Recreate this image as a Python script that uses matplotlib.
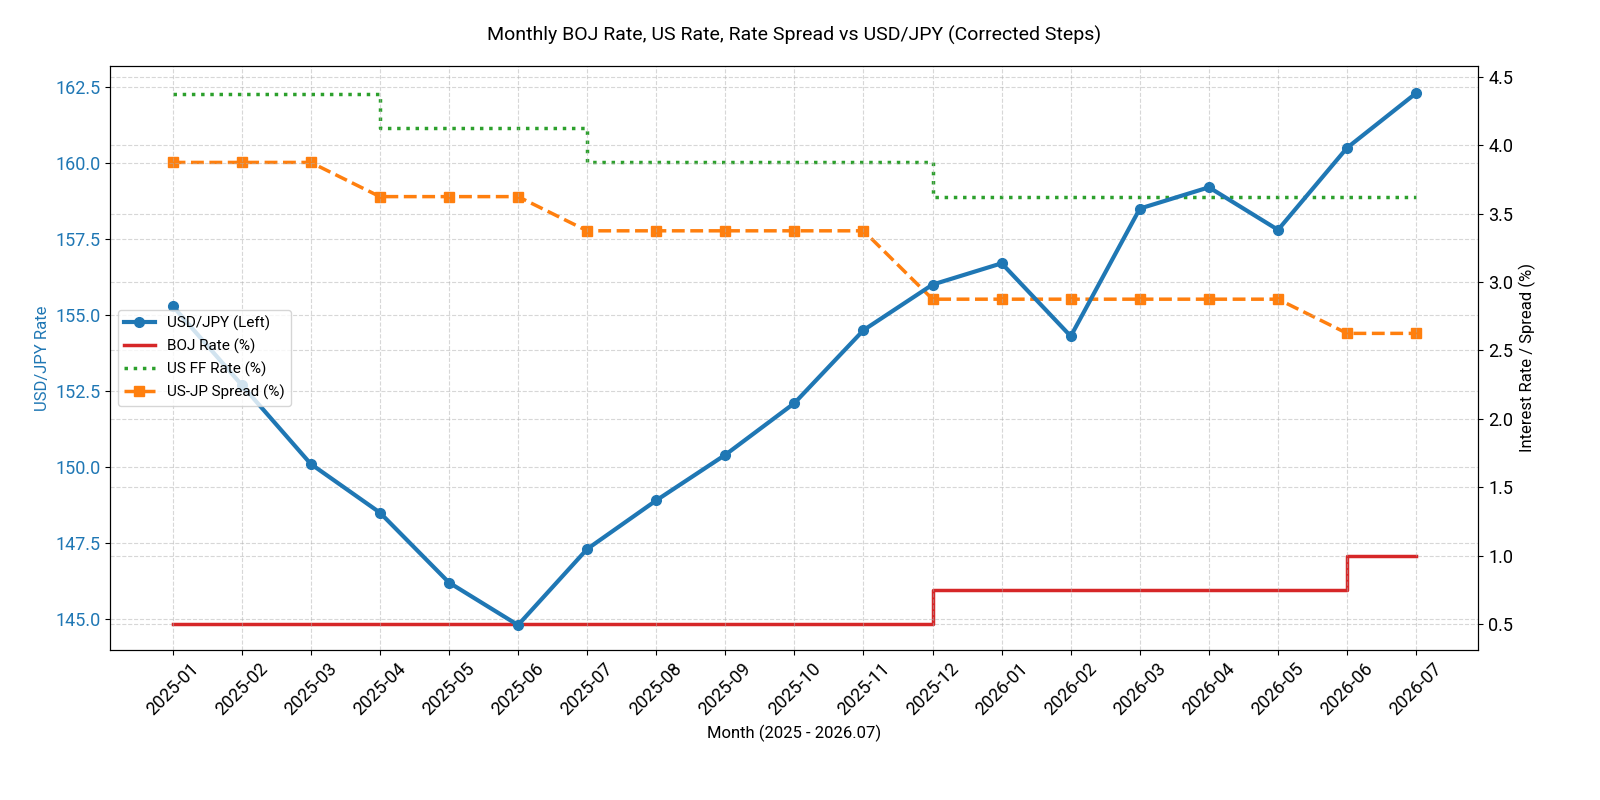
import matplotlib
matplotlib.use("Agg")
import matplotlib.pyplot as plt

plt.rcParams['font.family'] = ['Roboto', 'DejaVu Sans']

months = ["2025-01", "2025-02", "2025-03", "2025-04", "2025-05", "2025-06", "2025-07",
          "2025-08", "2025-09", "2025-10", "2025-11", "2025-12", "2026-01", "2026-02",
          "2026-03", "2026-04", "2026-05", "2026-06", "2026-07"]
usdjpy = [155.3, 152.7, 150.1, 148.5, 146.2, 144.8, 147.3, 148.9, 150.4, 152.1,
          154.5, 156.0, 156.7, 154.3, 158.5, 159.2, 157.8, 160.5, 162.3]
boj = [0.5] * 11 + [0.75] * 6 + [1.0] * 2
us_ff = [4.375] * 3 + [4.125] * 3 + [3.875] * 5 + [3.625] * 8
spread = [u - b for u, b in zip(us_ff, boj)]

x = list(range(len(months)))

fig, ax = plt.subplots(figsize=(16, 8), dpi=100)
ax2 = ax.twinx()

l1, = ax.plot(x, usdjpy, color='#1f77b4', lw=3, marker='o', ms=7, label='USD/JPY (Left)', zorder=5)
l2, = ax2.plot(x, boj, color='#d62728', lw=2.5, drawstyle='steps-post', label='BOJ Rate (%)')
l3, = ax2.plot(x, us_ff, color='#2ca02c', lw=2.5, ls=':', drawstyle='steps-post', label='US FF Rate (%)')
l4, = ax2.plot(x, spread, color='#ff7f0e', lw=2.5, ls='--', marker='s', ms=7, label='US-JP Spread (%)')

ax.set_ylim(143.98, 163.19)
ax2.set_ylim(0.31, 4.58)
ax.set_xticks(x)
ax.set_xticklabels(months, rotation=45, fontsize=13)
ax.tick_params(axis='y', labelcolor='#1f77b4', labelsize=13)
ax2.tick_params(axis='y', labelsize=13)
ax.set_ylabel('USD/JPY Rate', color='#1f77b4', fontsize=12)
ax2.set_ylabel('Interest Rate / Spread (%)', fontsize=12)
ax.set_xlabel('Month (2025 - 2026.07)', fontsize=12)
ax.set_title('Monthly BOJ Rate, US Rate, Rate Spread vs USD/JPY (Corrected Steps)', fontsize=14, pad=18)
ax.grid(True, ls='--', alpha=0.5)
ax2.grid(True, ls='--', alpha=0.5)

ax.set_zorder(ax2.get_zorder() + 1)
ax.patch.set_visible(False)
ax.legend(handles=[l1, l2, l3, l4], loc='center left', fontsize=11)

fig.subplots_adjust(left=0.069, right=0.924, top=0.9175, bottom=0.1875)
fig.savefig('out.png')
